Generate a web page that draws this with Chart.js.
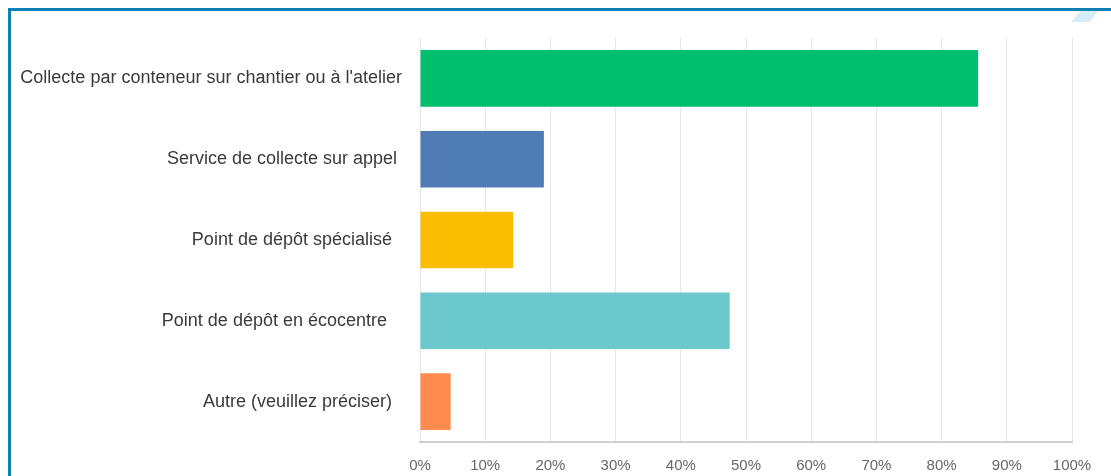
<!DOCTYPE html>
<html lang="fr">
<head>
<meta charset="utf-8">
<title>Collecte</title>
<script src="https://cdn.jsdelivr.net/npm/chart.js@4"></script>
<style>
    html, body { margin: 0; padding: 0; background: #fff; }
    #wrap { position: relative; width: 1111px; height: 476px; overflow: hidden; }
    #frame {
        position: absolute; left: 8px; top: 8px; width: 1200px; height: 600px;
        border-left: 3px solid #0b80b7; border-top: 3px solid #0b80b7;
    }
    #corner {
        position: absolute; left: 1071px; top: 11px; width: 27px; height: 11px;
        background: #d5edf9;
        clip-path: polygon(35% 0, 100% 0, 70% 100%, 0 100%);
    }
    canvas { position: absolute; left: 0; top: 0; }
</style>
</head>
<body>
<div id="wrap">
    <canvas id="chart" width="1111" height="476"></canvas>
    <div id="frame"></div>
    <div id="corner"></div>
</div>
<script>
    // survey answers keep their trailing spaces
    const categories = [
        "Collecte par conteneur sur chantier ou à l'atelier",
        "Service de collecte sur appel ",
        "Point de dépôt spécialisé  ",
        "Point de dépôt en écocentre   ",
        "Autre (veuillez préciser)  "
    ];
    const percentages = [85.6, 19.0, 14.3, 47.5, 4.7];
    const barColors = ["#00bf6f", "#507cb6", "#f9be00", "#6bc8cd", "#ff8b4f"];
    const tickValues = [0, 10, 20, 30, 40, 50, 60, 70, 80, 90, 100];

    const ctx = document.getElementById("chart").getContext("2d");
    new Chart(ctx, {
        type: "bar",
        data: {
            labels: categories,
            datasets: [{
                data: percentages,
                backgroundColor: barColors,
                barPercentage: 0.7,
                categoryPercentage: 1.0
            }]
        },
        options: {
            indexAxis: "y",
            responsive: false,
            animation: false,
            layout: { padding: { top: 38, right: 39, left: 0, bottom: 0 } },
            plugins: {
                legend: { display: false },
                tooltip: { enabled: false }
            },
            scales: {
                x: {
                    min: 0,
                    max: 100,
                    afterBuildTicks: scale => {
                        scale.ticks = tickValues.map(v => ({ value: v }));
                    },
                    afterFit: scale => { scale.height = 34; },
                    grid: { color: "#e6e6e6", lineWidth: 1, drawTicks: false },
                    border: { display: true, color: "#cfcfcf", width: 2 },
                    ticks: {
                        padding: 15,
                        color: "#666",
                        font: { family: "Liberation Sans", size: 15 },
                        callback: v => v + "%"
                    }
                },
                y: {
                    afterFit: scale => { scale.width = 420; },
                    grid: { display: false, drawTicks: false },
                    border: { display: false },
                    ticks: {
                        padding: 18,
                        color: "#3a3a3a",
                        font: { family: "Liberation Sans", size: 18 }
                    }
                }
            }
        }
    });
</script>
</body>
</html>
